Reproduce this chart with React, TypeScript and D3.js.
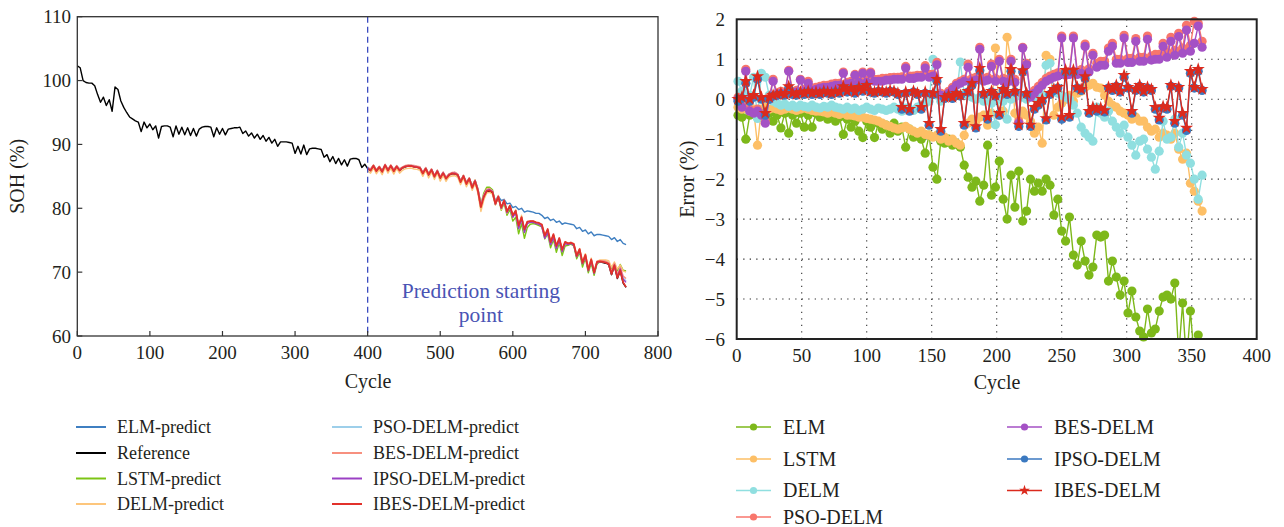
import React from 'react';
import * as d3 from 'd3';

// ---------------- Left chart data (SOH %) ----------------
const refStep = 4;
// Reference SOH, cycles 0..396 (step 4)
const refEarly = [
  102.3, 102.0, 100.0, 99.7, 99.6, 99.6, 99.2, 97.8, 96.6, 97.4,
  96.1, 97.0, 95.2, 99.0, 98.6, 96.8, 95.8, 95.0, 94.3, 94.0,
  93.7, 93.5, 92.0, 93.5, 92.6, 93.2, 92.3, 92.9, 91.0, 92.8,
  92.9, 92.9, 92.7, 91.2, 92.9, 91.6, 92.7, 91.5, 92.6, 91.4,
  92.5, 91.3, 92.4, 92.7, 92.8, 92.8, 92.7, 91.2, 92.6, 91.6,
  92.5, 91.5, 92.4, 92.5, 92.6, 92.6, 92.7, 91.7, 92.1, 91.3,
  91.8, 91.0, 91.6, 90.8, 91.4, 90.5, 91.1, 90.2, 90.8, 89.7,
  90.4, 90.4, 90.4, 90.3, 90.2, 88.6, 89.7, 88.5, 89.9, 88.4,
  89.3, 89.4, 89.4, 89.3, 89.2, 88.0, 88.4, 87.3, 88.1, 87.0,
  87.8, 86.8, 87.6, 86.6, 87.7, 87.8, 87.8, 87.6, 86.4, 86.9,
];
// Reference SOH, cycles 400..756 (step 4)
const refLate = [
  86.2, 85.9, 86.6, 85.8, 86.4, 85.7, 86.7, 85.9, 86.6, 85.8,
  86.5, 85.9, 86.3, 86.5, 86.6, 86.6, 86.5, 86.4, 86.3, 85.4,
  86.2, 85.2, 86.0, 84.9, 85.8, 84.7, 85.5, 84.6, 85.2, 85.4,
  85.4, 85.2, 84.1, 85.0, 83.8, 84.6, 83.2, 84.2, 82.6, 80.0,
  81.6, 82.6, 82.7, 82.4, 80.6, 81.8, 80.0, 81.2, 79.4, 80.4,
  78.8, 79.6, 77.2, 78.6, 76.6, 77.8, 77.9, 77.9, 77.7, 77.6,
  77.3, 75.6, 76.6, 74.6, 75.8, 74.0, 75.2, 73.4, 74.6, 74.4,
  74.5, 74.3, 72.4, 73.5, 71.3, 72.6, 70.2, 71.9, 69.8, 71.5,
  71.6, 71.5, 71.4, 71.2, 69.6, 71.0, 69.0, 70.2, 68.3, 67.6,
];
const predStart = 400;
// ELM prediction (cycles 400..756)
const elmPredict = [
  86.3, 86.1, 86.7, 86.0, 86.5, 85.9, 86.8, 86.1, 86.7, 86.0,
  86.6, 86.1, 86.4, 86.6, 86.7, 86.7, 86.6, 86.5, 86.4, 85.6,
  86.3, 85.4, 86.1, 85.1, 85.9, 84.9, 85.6, 84.8, 85.3, 85.5,
  85.5, 85.3, 84.3, 85.1, 84.0, 84.7, 83.5, 84.3, 83.0, 80.6,
  81.9, 82.8, 82.9, 82.6, 81.2, 81.9, 81.2, 81.4, 80.7, 80.8,
  80.1, 80.3, 79.8, 80.0, 79.4, 79.6, 79.5, 79.4, 79.2, 79.2,
  78.9, 78.4, 78.6, 78.1, 78.3, 77.8, 78.0, 77.5, 77.7, 77.6,
  77.5, 77.4, 76.8, 77.0, 76.4, 76.6, 76.0, 76.3, 75.7, 75.9,
  75.9, 75.8, 75.7, 75.6, 75.1, 75.4, 74.8, 75.1, 74.5, 74.3,
];
// Deviations (prediction − reference), cycles 400..756
const lstmDev = [
  0.1, 0.2, 0.1, 0.2, 0.1, 0.2, 0.0, 0.2, 0.1, 0.2, 0.1, 0.2, 0.1, 0.1, 0.1, 0.0, 0.1, 0.1, 0.1, 0.2,
  0.1, 0.2, 0.1, 0.2, 0.1, 0.2, 0.1, 0.2, 0.1, 0.1, 0.2, 0.1, 0.2, 0.1, 0.3, 0.1, 0.3, 0.2,
  0.4, 0.6, 0.8, 0.7, 0.6, 0.5,
  0.2, 0.0, -0.3, -0.4, -0.5, -0.6, -0.8,
  -1.0, -1.2, -1.0, -1.3, -0.8,
  -0.4, -0.3, -0.2, -0.3, -0.2,
  -0.4, -0.6, -0.8, -0.7, -0.9, -0.6, -0.8, -0.5,
  -0.2, -0.1, -0.2,
  -0.3, -0.4, -0.5, -0.4, -0.3, -0.5, -0.3, -0.2,
  0.0, 0.1, 0.2, 0.3,
  0.8, 0.4, 1.2, 1.0, 2.0, 2.6,
];
const delmDev = [
  -0.3, -0.4, -0.3, -0.4, -0.35, -0.45, -0.3, -0.4, -0.35, -0.45, -0.3, -0.4, -0.35, -0.3, -0.35, -0.3, -0.35, -0.3, -0.35, -0.4,
  -0.3, -0.45, -0.35, -0.4, -0.3, -0.45, -0.35, -0.4, -0.3, -0.35, -0.3, -0.35, -0.4, -0.3, -0.45, -0.35, -0.4, -0.3,
  -0.3, -0.5, -0.3, -0.2, -0.2, -0.2,
  -0.1, 0.0, -0.2, 0.0, -0.2, 0.1, -0.3,
  0.2, -0.2, 0.3, -0.2, 0.1, 0.0, 0.0, 0.1, 0.0,
  0.1, 0.3, -0.1, 0.3, -0.1, 0.2, -0.1, 0.2, -0.1,
  0.1, 0.1, 0.2,
  0.3, 0.2, 0.4, 0.3, 0.5, 0.3, 0.4, 0.2,
  0.3, 0.4, 0.5, 0.6,
  1.2, 0.6, 1.5, 0.9, 1.9, 2.4,
];
const psoDev = [
  0.1, 0.15, 0.1, 0.15, 0.1, 0.15, 0.1, 0.15, 0.1, 0.15, 0.1, 0.15, 0.1, 0.1, 0.1, 0.1, 0.1, 0.1, 0.1, 0.15,
  0.1, 0.15, 0.1, 0.15, 0.1, 0.15, 0.1, 0.15, 0.1, 0.1, 0.15, 0.1, 0.15, 0.1, 0.2, 0.1, 0.2, 0.15,
  0.3, 0.4, 0.4, 0.3, 0.3, 0.3,
  0.2, 0.1, 0.1, 0.0, 0.0, -0.1, -0.1,
  -0.2, -0.3, -0.2, -0.3, -0.1, 0.0, 0.0, 0.0, 0.0,
  -0.1, -0.2, -0.3, -0.2, -0.3, -0.2, -0.2, -0.1, 0.0,
  0.0, 0.1, 0.0,
  0.1, 0.0, 0.1, 0.0, 0.1, 0.0, 0.1, 0.1,
  0.1, 0.2, 0.2, 0.2,
  0.3, 0.2, 0.5, 0.4, 0.8, 1.0,
];
const besDev = [
  0.2, 0.25, 0.2, 0.25, 0.2, 0.25, 0.2, 0.25, 0.2, 0.25, 0.2, 0.25, 0.2, 0.2, 0.2, 0.15, 0.2, 0.2, 0.2, 0.25,
  0.2, 0.25, 0.2, 0.25, 0.2, 0.25, 0.2, 0.25, 0.2, 0.2, 0.25, 0.2, 0.25, 0.2, 0.3, 0.2, 0.3, 0.25,
  0.4, 0.5, 0.5, 0.4, 0.4, 0.3,
  0.3, 0.2, 0.1, 0.1, 0.0, 0.0, -0.1,
  -0.1, -0.2, -0.1, -0.2, 0.0, 0.1, 0.1, 0.1, 0.1,
  0.0, -0.1, -0.2, -0.1, -0.2, -0.1, -0.1, 0.0, 0.1,
  0.1, 0.2, 0.1,
  0.2, 0.1, 0.2, 0.1, 0.2, 0.1, 0.2, 0.2,
  0.2, 0.3, 0.3, 0.3,
  0.5, 0.4, 0.7, 0.6, 1.1, 1.4,
];
const ipsoDev = [
  0.05, 0.1, 0.05, 0.1, 0.05, 0.1, 0.05, 0.1, 0.05, 0.1, 0.05, 0.1, 0.05, 0.05, 0.05, 0.05, 0.05, 0.05, 0.05, 0.1,
  0.05, 0.1, 0.05, 0.1, 0.05, 0.1, 0.05, 0.1, 0.05, 0.05, 0.1, 0.05, 0.1, 0.05, 0.15, 0.05, 0.15, 0.1,
  0.2, 0.3, 0.3, 0.2, 0.2, 0.2,
  0.1, 0.0, 0.0, -0.1, -0.1, -0.2, -0.2,
  -0.3, -0.4, -0.3, -0.4, -0.2, -0.1, -0.1, -0.1, -0.1,
  -0.2, -0.3, -0.4, -0.3, -0.4, -0.3, -0.3, -0.2, -0.1,
  -0.1, 0.0, -0.1,
  0.0, -0.1, 0.0, -0.1, 0.0, -0.1, 0.0, 0.0,
  0.0, 0.1, 0.1, 0.1,
  0.2, 0.1, 0.3, 0.3, 0.6, 0.8,
];
const ibesDev = [
  0.05, 0.0, 0.05, 0.0, 0.05, 0.0, 0.05, 0.0, 0.05, 0.0, 0.05, 0.0, 0.05, 0.05, 0.0, 0.05, 0.0, 0.05, 0.0, 0.05,
  0.0, 0.05, 0.0, 0.05, 0.0, 0.05, 0.0, 0.05, 0.0, 0.05, 0.0, 0.05, 0.0, 0.05, 0.0, 0.05, 0.0, 0.05,
  0.1, 0.2, 0.2, 0.1, 0.1, 0.1,
  0.1, 0.0, 0.1, 0.0, 0.1, 0.0, 0.1,
  0.0, 0.1, 0.0, 0.1, 0.1, 0.1, 0.1, 0.1, 0.1,
  0.15, 0.1, 0.15, 0.1, 0.15, 0.1, 0.15, 0.1, 0.15,
  0.1, 0.1, 0.1,
  0.15, 0.1, 0.15, 0.1, 0.15, 0.1, 0.15, 0.1,
  0.1, 0.1, 0.1, 0.1,
  0.1, 0.1, 0.1, 0.1, 0.1, 0.05,
];

const leftTicksX = [0, 100, 200, 300, 400, 500, 600, 700, 800];
const leftTicksY = [60, 70, 80, 90, 100, 110];

// ---------------- Right chart data (Error %) ----------------
const errStart = 1;
const errStep = 3;
const errELM = [
  -0.40, -0.45, -1.00, -0.40, -0.35, -0.45, -0.30, -0.50, -0.35, -0.55,
  -0.40, -0.72, -0.35, -0.85, -0.40, -0.60, -0.35, -0.70, -0.40, -0.70,
  -0.35, -0.45, -0.40, -0.50, -0.42, -0.55, -0.45, -0.88, -0.50, -0.70,
  -0.55, -0.80, -0.96, -0.55, -0.70, -0.96, -0.60, -0.75, -0.65, -0.85,
  -0.60, -0.80, -0.70, -1.20, -0.75, -0.95, -0.85, -1.00, -1.35, -0.90,
  -1.70, -2.00, -1.05, -1.10, -1.00, -1.15, -1.10, -1.20, -1.65, -1.95,
  -2.20, -2.05, -2.55, -2.15, -1.15, -2.40, -2.20, -1.55, -2.50, -3.00,
  -1.90, -2.70, -1.80, -3.05, -2.80, -2.00, -2.30, -2.10, -2.30, -2.00,
  -2.15, -2.90, -2.50, -3.30, -3.55, -2.95, -3.90, -4.15, -3.55, -4.05,
  -4.40, -4.20, -3.40, -3.45, -3.40, -4.55, -4.05, -4.45, -4.90, -4.55,
  -5.35, -4.80, -5.45, -5.80, -5.95, -5.25, -5.85, -5.75, -5.30, -4.95,
  -4.90, -5.00, -4.60, -6.40, -5.10, -6.60, -5.30, -6.50, -5.90,
];
const errLSTM = [
  -0.20, -0.25, -0.20, -0.30, -0.25, -1.15, -0.25, -0.20, -0.25, -0.22,
  -0.25, -0.28, -0.25, -0.22, -0.25, -0.28, -0.25, -0.22, -0.25, -0.28,
  -0.30, -0.30, -0.32, -0.35, -0.32, -0.35, -0.38, -0.35, -0.40, -0.40,
  -0.42, -0.45, -0.45, -0.48, -0.50, -0.52, -0.55, -0.60, -0.65, -0.68,
  -0.72, -0.75, -0.72, -0.68, -0.75, -0.80, -0.85, -0.80, -0.88, -0.90,
  -0.95, -0.90, -1.00, -0.95, -1.05, -1.00, -1.10, -1.15, -0.90, -0.60,
  -0.50, -0.55, -0.45, -0.40, -0.65, -0.35, 1.28, -0.40, -0.30, 1.55,
  0.95, -0.35, -0.45, -0.30, -0.40, -0.55, -0.85, -0.70, -1.10, 1.10,
  1.00, -0.40, -0.20, -0.10, 0.00, 0.10, -0.05, 0.15, 0.20, 0.30,
  0.35, 0.40, 0.30, 0.28, 0.10, -0.05, -0.15, -0.20, -0.30, -0.35,
  -0.40, -0.50, -0.45, -0.55, -0.55, -0.70, -0.80, -0.75, -0.95, -0.85,
  -0.90, -1.00, -0.85, -1.25, -1.50, -1.35, -2.10, -2.30, -2.55, -2.80,
];
const errDELM = [
  0.45, 0.20, 0.40, 0.10, 0.55, -0.48, 0.65, 0.55, 0.10, -0.05,
  -0.10, -0.15, -0.12, -0.18, -0.15, -0.20, -0.15, -0.18, -0.20, -0.15,
  -0.20, -0.22, -0.18, -0.20, -0.15, -0.20, -0.22, -0.25, -0.20, -0.25,
  -0.22, -0.28, -0.25, -0.20, -0.25, -0.28, -0.22, -0.25, -0.28, -0.25,
  -0.20, -0.25, -0.30, -0.22, -0.25, -0.28, -0.20, -0.15, -0.10, -0.05,
  1.00, 0.10, -0.05, 0.05, 0.10, 0.05, 0.10, 0.93, 0.15, 0.10,
  0.05, 0.00, 0.05, -0.05, 0.00, -0.10, -0.64, 0.00, -0.05, -0.50,
  0.00, 0.05, 0.10, 0.05, 0.00, 0.10, 0.05, 0.15, 0.10, 0.85,
  0.90, 0.20, 0.15, 0.10, 0.05, 0.00, -0.15, -0.35, -0.70, -0.85,
  -0.95, -1.05, -0.20, -0.35, -0.45, -0.30, -0.55, -0.70, -0.85, -0.65,
  -0.95, -1.15, -1.40, -1.05, -1.00, -1.25, -1.45, -1.75, -1.30, -0.55,
  -1.00, -0.95, -0.50, -1.20, -0.85, -1.40, -1.60, -2.00, -2.50, -1.90,
];
const errPSO = [
  0.05, -0.15, 0.75, -0.25, -0.30, -0.25, -0.35, -0.55, 0.05, 0.50,
  0.15, 0.20, 0.18, 0.72, 0.20, 0.22, 0.50, 0.25, 0.45, 0.28,
  0.30, 0.32, 0.35, 0.35, 0.38, 0.40, 0.40, 0.68, 0.42, 0.45,
  0.62, 0.48, 0.68, 0.48, 0.68, 0.50, 0.50, 0.52, 0.52, 0.54,
  0.55, 0.55, 0.56, 0.82, 0.58, 0.58, 0.60, 0.60, 0.84, 0.62,
  0.62, 0.92, 0.15, 0.10, 0.20, 0.30, 0.40, 0.45, 0.50, 0.88,
  0.52, 0.55, 1.30, 0.52, 0.55, 0.88, 0.52, 1.00, 0.52, 0.50,
  1.00, 0.50, -0.55, 1.30, 0.90, 0.10, 0.22, 0.32, 0.42, 0.52,
  0.58, 0.62, 0.66, 1.58, 0.68, 0.70, 1.58, 0.70, 0.74, 1.38,
  0.76, 1.15, 0.90, 0.95, 0.95, 1.28, 1.40, 1.00, 1.00, 1.60,
  1.02, 1.02, 1.52, 1.05, 1.05, 1.58, 1.08, 1.12, 1.12, 1.40,
  1.18, 1.55, 1.22, 1.65, 1.28, 1.85, 1.35, 1.95, 1.90, 1.45,
];
const errBES = [
  0.00, -0.20, 0.70, -0.30, -0.35, -0.30, -0.40, -0.60, 0.00, 0.45,
  0.10, 0.15, 0.12, 0.70, 0.15, 0.18, 0.48, 0.20, 0.40, 0.22,
  0.25, 0.28, 0.30, 0.30, 0.32, 0.35, 0.35, 0.65, 0.38, 0.40,
  0.60, 0.42, 0.65, 0.42, 0.65, 0.45, 0.45, 0.45, 0.48, 0.48,
  0.50, 0.50, 0.50, 0.78, 0.52, 0.52, 0.55, 0.55, 0.78, 0.55,
  0.58, 0.86, 0.10, 0.05, 0.15, 0.25, 0.35, 0.40, 0.45, 0.80,
  0.45, 0.48, 1.25, 0.45, 0.48, 0.82, 0.45, 0.95, 0.45, 0.42,
  0.95, 0.42, -0.60, 1.28, 0.86, 0.05, 0.15, 0.25, 0.35, 0.45,
  0.50, 0.55, 0.58, 1.53, 0.60, 0.62, 1.53, 0.62, 0.65, 1.32,
  0.68, 1.10, 0.80, 0.85, 0.85, 1.20, 1.32, 0.90, 0.90, 1.53,
  0.92, 0.92, 1.45, 0.95, 0.95, 1.50, 0.98, 1.00, 1.00, 1.32,
  1.05, 1.45, 1.10, 1.57, 1.15, 1.73, 1.20, 1.40, 1.83, 1.30,
];
const errIPSO = [
  -0.05, 0.02, 0.40, -0.05, 0.05, 0.50, 0.00, -0.40, 0.00, 0.08,
  0.10, 0.12, 0.10, 0.28, 0.12, 0.10, 0.15, 0.12, 0.18, 0.12,
  0.15, 0.12, 0.18, 0.15, 0.12, 0.18, 0.15, 0.28, 0.18, 0.25,
  0.15, 0.28, 0.20, 0.32, 0.18, 0.15, 0.20, 0.18, 0.15, 0.20,
  0.18, 0.12, -0.25, 0.15, -0.30, 0.18, 0.12, -0.25, 0.15, -0.65,
  0.12, 0.45, -0.80, 0.02, 0.08, 0.02, 0.12, 0.08, -0.65, 0.18,
  0.35, -0.72, 0.72, 0.12, -0.50, 0.18, 0.08, -0.40, 0.22, 0.12,
  0.70, 0.18, -0.68, 0.68, 0.12, -0.68, -0.25, -0.15, -0.05, -0.52,
  0.12, 0.22, 0.28, -0.50, 0.68, -0.45, 0.68, 0.28, 0.22, 0.52,
  -0.35, -0.25, -0.30, -0.26, -0.32, 0.28, 0.22, 0.32, 0.18, 0.55,
  0.28, -0.35, 0.22, 0.32, 0.18, 0.28, 0.22, -0.25, -0.52, -0.22,
  -0.25, 0.32, -0.60, 0.28, -0.40, -0.78, 0.65, 0.28, 0.70, 0.22,
];
const errIBES = [
  0.00, 0.05, 0.45, 0.00, 0.10, 0.57, 0.05, -0.35, 0.05, 0.10,
  0.12, 0.15, 0.12, 0.32, 0.15, 0.12, 0.18, 0.15, 0.20, 0.15,
  0.18, 0.15, 0.20, 0.18, 0.15, 0.20, 0.18, 0.32, 0.20, 0.28,
  0.18, 0.30, 0.22, 0.35, 0.20, 0.18, 0.22, 0.20, 0.18, 0.22,
  0.20, 0.15, -0.20, 0.18, -0.25, 0.20, 0.15, -0.20, 0.18, -0.60,
  0.15, 0.50, -0.75, 0.05, 0.10, 0.05, 0.15, 0.10, -0.60, 0.20,
  0.40, -0.68, 0.78, 0.15, -0.45, 0.20, 0.10, -0.35, 0.25, 0.15,
  0.75, 0.20, -0.64, 0.72, 0.15, -0.64, -0.20, -0.10, 0.00, -0.48,
  0.15, 0.25, 0.30, -0.44, 0.73, -0.40, 0.73, 0.30, 0.25, 0.57,
  -0.30, -0.20, -0.25, -0.22, -0.28, 0.30, 0.25, 0.35, 0.20, 0.60,
  0.30, -0.30, 0.25, 0.35, 0.20, 0.30, 0.25, -0.20, -0.47, -0.18,
  -0.20, 0.35, -0.55, 0.30, -0.35, -0.72, 0.70, 0.30, 0.75, 0.25,
];

const rightTicksX = [0, 50, 100, 150, 200, 250, 300, 350, 400];
const rightTicksY = [-6, -5, -4, -3, -2, -1, 0, 1, 2];

// ---------------- Styles ----------------
const FONT = "'Liberation Serif', 'DejaVu Serif', 'Times New Roman', Times, serif";
const TXT = '#231f20';

const leftSeries = [
  { name: 'ELM-predict', color: '#3f7fc1' },
  { name: 'Reference', color: '#000000' },
  { name: 'LSTM-predict', color: '#7cc414' },
  { name: 'DELM-predict', color: '#fdc67c' },
  { name: 'PSO-DELM-predict', color: '#9dcfea' },
  { name: 'BES-DELM-predict', color: '#f7907f' },
  { name: 'IPSO-DELM-predict', color: '#9b40c4' },
  { name: 'IBES-DELM-predict', color: '#e2312b' },
];

const rightSeries = [
  { name: 'ELM', color: '#7db81a', data: errELM, star: false },
  { name: 'LSTM', color: '#fdbf66', data: errLSTM, star: false },
  { name: 'DELM', color: '#90dfe0', data: errDELM, star: false },
  { name: 'PSO-DELM', color: '#f8766c', data: errPSO, star: false },
  { name: 'BES-DELM', color: '#a451c5', data: errBES, star: false },
  { name: 'IPSO-DELM', color: '#3b79c0', data: errIPSO, star: false },
  { name: 'IBES-DELM', color: '#db2a1d', data: errIBES, star: true },
];

export default function App() {
  const xL = d3.scaleLinear().domain([0, 800]).range([77.3, 658]);
  const yL = d3.scaleLinear().domain([60, 110]).range([336, 16.7]);
  const xR = d3.scaleLinear().domain([0, 400]).range([736.7, 1256.7]);
  const yR = d3.scaleLinear().domain([-6, 2]).range([339, 19.3]);

  const lineL = d3.line<[number, number]>().x((d) => xL(d[0])).y((d) => yL(d[1]));
  const lineR = d3.line<[number, number]>().x((d) => xR(d[0])).y((d) => yR(d[1]));

  const refAll = refEarly.concat(refLate);
  const refPts: [number, number][] = refAll.map((v, i) => [i * refStep, v]);
  const late = (vals: number[]): [number, number][] => vals.map((v, i) => [predStart + i * refStep, v]);
  const fromDev = (dev: number[]) => late(refLate.map((v, i) => v + dev[i]));

  const leftData: [number, number][][] = [
    late(elmPredict),
    refPts,
    fromDev(lstmDev),
    fromDev(delmDev),
    fromDev(psoDev),
    fromDev(besDev),
    fromDev(ipsoDev),
    fromDev(ibesDev),
  ];

  const starPath = d3.symbol(d3.symbolStar, 54)() as string;
  const starLegend = d3.symbol(d3.symbolStar, 36)() as string;

  const [l0, l1] = xL.range();
  const [b0, t0] = yL.range();
  const [r0, r1] = xR.range();
  const [b1, t1] = yR.range();

  const fmtR = (v: number) => (v < 0 ? '\u2212' + Math.abs(v) : String(v));
  const ts: React.CSSProperties = { fontFamily: FONT };

  return (
    <svg width={1284} height={527} style={{ position: 'absolute', left: 0, top: 0, background: '#fff', fontFamily: FONT }}>
      <defs>
        <clipPath id="clipR">
          <rect x={r0} y={t1} width={r1 - r0} height={b1 - t1} />
        </clipPath>
      </defs>
      <rect x={0} y={0} width={1284} height={527} fill="#fff" />

      {/* ---------- LEFT CHART ---------- */}
      <g>
        {leftData.map((pts, i) => (
          <path key={i} d={lineL(pts) as string} fill="none" stroke={leftSeries[i].color}
            strokeWidth={i === 7 ? 1.8 : 1.4} strokeLinejoin="round" />
        ))}
        <line x1={xL(400)} x2={xL(400)} y1={t0} y2={b0} stroke="#3b4cc0" strokeWidth={1.3} strokeDasharray="6,4" />
        <text x={xL(556)} y={298} fontSize={21.5} fill="#4a54b4" textAnchor="middle" style={ts}>Prediction starting</text>
        <text x={xL(556)} y={322} fontSize={21.5} fill="#4a54b4" textAnchor="middle" style={ts}>point</text>
        <rect x={l0} y={t0} width={l1 - l0} height={b0 - t0} fill="none" stroke="#333" strokeWidth={1.3} />
        {leftTicksX.map((t) => (
          <g key={'lx' + t}>
            <line x1={xL(t)} x2={xL(t)} y1={b0} y2={b0 - 5} stroke="#333" strokeWidth={1.2} />
            <text x={xL(t)} y={359} fontSize={19} fill={TXT} textAnchor="middle" style={ts}>{t}</text>
          </g>
        ))}
        {leftTicksY.map((t) => (
          <g key={'ly' + t}>
            <line x1={l0} x2={l0 + 5} y1={yL(t)} y2={yL(t)} stroke="#333" strokeWidth={1.2} />
            <text x={71} y={yL(t) + 6.5} fontSize={19} fill={TXT} textAnchor="end" style={ts}>{t}</text>
          </g>
        ))}
        <text x={368} y={388} fontSize={20} fill={TXT} textAnchor="middle" style={ts}>Cycle</text>
        <text transform={`translate(24,${(t0 + b0) / 2}) rotate(-90)`} fontSize={20} fill={TXT} textAnchor="middle" style={ts}>SOH (%)</text>
      </g>

      {/* left legend */}
      <g>
        {leftSeries.map((s, i) => {
          const col = i < 4 ? 0 : 1;
          const row = i % 4;
          const cy = [427, 453, 478.5, 504][row];
          const lx = col === 0 ? 76 : 332;
          return (
            <g key={'ll' + i}>
              <line x1={lx} x2={lx + 30} y1={cy} y2={cy} stroke={s.color} strokeWidth={2} />
              <text x={lx + 41} y={cy + 6} fontSize={18} fill={TXT} style={ts}>{s.name}</text>
            </g>
          );
        })}
      </g>

      {/* ---------- RIGHT CHART ---------- */}
      <g>
        {rightTicksX.slice(1, -1).map((t) => (
          <line key={'gx' + t} x1={xR(t)} x2={xR(t)} y1={t1} y2={b1} stroke="#333" strokeWidth={1.1} strokeDasharray="1.3,5.2" />
        ))}
        {rightTicksY.slice(1, -1).map((t) => (
          <line key={'gy' + t} x1={r0} x2={r1} y1={yR(t)} y2={yR(t)} stroke="#333" strokeWidth={1.1} strokeDasharray="1.3,5.2" />
        ))}
        {rightSeries.map((s, si) => {
          const pts: [number, number][] = s.data.map((v, k) => [errStart + k * errStep, v]);
          return (
            <g key={'rs' + si}>
              <path d={lineR(pts) as string} fill="none" stroke={s.color} strokeWidth={1.4} clipPath="url(#clipR)" />
              {pts.filter((p) => p[1] >= -6.05 && p[1] <= 2.05).map((p, k) =>
                s.star ? (
                  <path key={k} d={starPath} transform={`translate(${xR(p[0])},${yR(p[1])})`} fill={s.color} />
                ) : (
                  <circle key={k} cx={xR(p[0])} cy={yR(p[1])} r={4.6} fill={s.color} />
                )
              )}
            </g>
          );
        })}
        <rect x={r0} y={t1} width={r1 - r0} height={b1 - t1} fill="none" stroke="#222" strokeWidth={2} />
        {rightTicksX.map((t) => (
          <text key={'rx' + t} x={xR(t)} y={362} fontSize={19} fill={TXT} textAnchor="middle" style={ts}>{t}</text>
        ))}
        {rightTicksY.map((t) => (
          <text key={'ry' + t} x={725} y={yR(t) + 6.5} fontSize={19} fill={TXT} textAnchor="end" style={ts}>{fmtR(t)}</text>
        ))}
        <text x={997} y={389} fontSize={20} fill={TXT} textAnchor="middle" style={ts}>Cycle</text>
        <text transform={`translate(694,${(t1 + b1) / 2}) rotate(-90)`} fontSize={20} fill={TXT} textAnchor="middle" style={ts}>Error (%)</text>
      </g>

      {/* right legend */}
      <g>
        {rightSeries.map((s, i) => {
          const col = i < 4 ? 0 : 1;
          const row = i < 4 ? i : i - 4;
          const cy = [427, 459, 490.5, 517][row];
          const lx = col === 0 ? 736 : 1007;
          return (
            <g key={'rl' + i}>
              <line x1={lx} x2={lx + 35} y1={cy} y2={cy} stroke={s.color} strokeWidth={1.6} />
              {s.star ? (
                <path d={starLegend} transform={`translate(${lx + 17.5},${cy})`} fill={s.color} />
              ) : (
                <circle cx={lx + 17.5} cy={cy} r={3.6} fill={s.color} />
              )}
              <text x={lx + 47} y={cy + 6.5} fontSize={20} fill={TXT} style={ts}>{s.name}</text>
            </g>
          );
        })}
      </g>
    </svg>
  );
}
